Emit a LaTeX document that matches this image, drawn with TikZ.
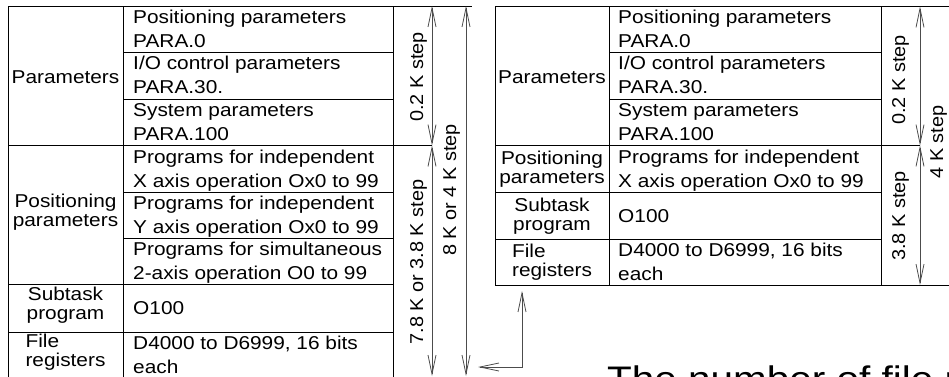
\documentclass[tikz,border=0pt]{standalone}
\usepackage{fontspec}
\setmainfont{Liberation Sans}
\usetikzlibrary{arrows.meta}
\begin{document}
\begin{tikzpicture}[x=1pt,y=-1pt,
  tl/.style={line width=1pt, draw=black},
  barb/.tip={Straight Barb[length=19pt,width=8pt]},
  dimline/.style={line width=0.8pt, draw=black!70, barb-barb},
  f/.style={inner sep=0pt},
  rc/.style={f, font=\fontsize{18.6}{24}\selectfont, xscale=1.12, align=left, anchor=north west},
  rs/.style={f, font=\fontsize{18.6}{24}\selectfont, xscale=1.12, anchor=west},
  lc/.style={f, font=\fontsize{18.6}{19.5}\selectfont, xscale=1.12, align=center},
  ll/.style={f, font=\fontsize{18.6}{19.5}\selectfont, xscale=1.12, align=left},
  dl/.style={f, font=\fontsize{18.6}{20}\selectfont, rotate=90, xscale=1.07, anchor=base}]
\useasboundingbox (0,0) rectangle (949,376);
\clip (0,0) rectangle (949,376);
% ---------- left table ----------
\draw[tl] (8,6) -- (472,6);
\draw[tl] (8,6) -- (8,378);
\draw[tl] (123,6) -- (123,378);
\draw[tl] (393,6) -- (393,378);
\draw[tl] (123,52) -- (393,52);
\draw[tl] (123,99) -- (393,99);
\draw[tl] (8,145.5) -- (432,145.5);
\draw[tl] (123,192) -- (393,192);
\draw[tl] (123,238) -- (393,238);
\draw[tl] (8,284) -- (393,284);
\draw[tl] (8,332) -- (393,332);
\draw[tl] (8,377.5) -- (472,377.5);
\node[lc] (lpar) at (65.5,77) {Parameters};
\node[lc] (lpos) at (65.5,212) {Positioning\\parameters};
\node[lc] (lsub) at (65.5,305) {Subtask\\program};
\node[ll] (lfile) at (65.5,352) {File\\registers};
\node[rc] (lr1) at (133,10) {Positioning parameters\\PARA.0};
\node[rc] (lr2) at (133,56) {I/O control parameters\\PARA.30.};
\node[rc] (lr3) at (133,103) {System parameters\\PARA.100};
\node[rc] (lr4) at (133,150) {Programs for independent\\X axis operation Ox0 to 99};
\node[rc] (lr5) at (133,196) {Programs for independent\\Y axis operation Ox0 to 99};
\node[rc] (lr6) at (133,242) {Programs for simultaneous\\2-axis operation O0 to 99};
\node[rs] (lr7) at (133,308) {O100};
\node[rc] (lr8) at (133,336) {D4000 to D6999, 16 bits\\each};
% dimension arrows left
\coordinate (a1t) at (432,6);
\coordinate (a1m) at (432,145.5);
\coordinate (a1b) at (432,376);
\coordinate (a2t) at (466,6);
\coordinate (a2b) at (466,376);
\draw[dimline] (a1t) -- (a1m);
\draw[dimline] (a1m) -- (a1b);
\draw[dimline] (a2t) -- (a2b);
\node[dl] (d1) at (423,77) {0.2 K step};
\node[dl] (d2) at (423,262) {7.8 K or 3.8 K step};
\node[dl] (d3) at (456,190) {8 K or 4 K step};
% ---------- right table ----------
\draw[tl] (495,6.5) -- (960,6.5);
\draw[tl] (495,6.5) -- (495,285);
\draw[tl] (609,6.5) -- (609,285);
\draw[tl] (881,6.5) -- (881,285);
\draw[tl] (609,52) -- (881,52);
\draw[tl] (609,99) -- (881,99);
\draw[tl] (495,145.5) -- (920,145.5);
\draw[tl] (495,192.5) -- (881,192.5);
\draw[tl] (495,239) -- (881,239);
\draw[tl] (495,285) -- (960,285);
\node[lc] (rpar) at (552,77) {Parameters};
\node[lc] (rpos) at (552,169) {Positioning\\parameters};
\node[lc] (rsub) at (552,216) {Subtask\\program};
\node[ll] (rfile) at (552,262) {File\\registers};
\node[rc] (rr1) at (618,10) {Positioning parameters\\PARA.0};
\node[rc] (rr2) at (618,56) {I/O control parameters\\PARA.30.};
\node[rc] (rr3) at (618,103) {System parameters\\PARA.100};
\node[rc] (rr4) at (618,150) {Programs for independent\\X axis operation Ox0 to 99};
\node[rs] (rr5) at (618,216) {O100};
\node[rc] (rr6) at (618,243) {D4000 to D6999, 16 bits\\each};
% dimension arrows right
\coordinate (b1t) at (920,6.5);
\coordinate (b1m) at (920,145.5);
\coordinate (b1b) at (920,285);
\coordinate (b2t) at (954,6.5);
\coordinate (b2b) at (954,285);
\draw[dimline] (b1t) -- (b1m);
\draw[dimline] (b1m) -- (b1b);
\draw[dimline] (b2t) -- (b2b);
\node[dl] (e1) at (905,80) {0.2 K step};
\node[dl] (e2) at (905,216) {3.8 K step};
\node[dl] (e3) at (943,142) {4 K step};
% connector
\coordinate (c1) at (522,291);
\coordinate (c2) at (522,367);
\coordinate (c3) at (478,367);
\draw[dimline] (c1) -- (c2) -- (c3);
% bottom caption (cut off)
\node[f, font=\fontsize{35.5}{40}\selectfont, xscale=1.14, anchor=north west] (cap) at (607,366) {The number of file registers};
\end{tikzpicture}
\end{document}
